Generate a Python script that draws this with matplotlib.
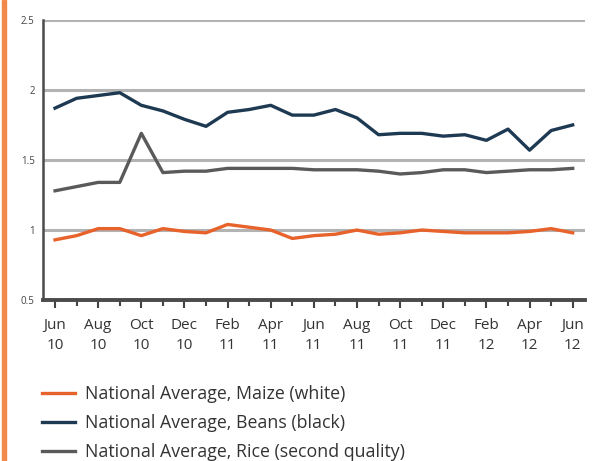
import matplotlib
matplotlib.use("Agg")
import matplotlib.pyplot as plt
from matplotlib.patches import Rectangle

# monthly national average prices, Jun 2010 - Jun 2012
months = list(range(25))
tick_labels = ["Jun\n10", "Aug\n10", "Oct\n10", "Dec\n10", "Feb\n11", "Apr\n11", "Jun\n11",
               "Aug\n11", "Oct\n11", "Dec\n11", "Feb\n12", "Apr\n12", "Jun\n12"]

maize = [0.93, 0.96, 1.01, 1.01, 0.96, 1.01, 0.99, 0.98, 1.04, 1.02, 1.00, 0.94, 0.96,
         0.97, 1.00, 0.97, 0.98, 1.00, 0.99, 0.98, 0.98, 0.98, 0.99, 1.01, 0.98]
beans = [1.87, 1.94, 1.96, 1.98, 1.89, 1.85, 1.79, 1.74, 1.84, 1.86, 1.89, 1.82, 1.82,
         1.86, 1.80, 1.68, 1.69, 1.69, 1.67, 1.68, 1.64, 1.72, 1.57, 1.71, 1.75]
rice = [1.28, 1.31, 1.34, 1.34, 1.69, 1.41, 1.42, 1.42, 1.44, 1.44, 1.44, 1.44, 1.43,
        1.43, 1.43, 1.42, 1.40, 1.41, 1.43, 1.43, 1.41, 1.42, 1.43, 1.43, 1.44]

labels = ["National Average, Maize (white)",
          "National Average, Beans (black)",
          "National Average, Rice (second quality)"]

plt.rcParams['font.family'] = ['Open Sans', 'DejaVu Sans']

fig = plt.figure(figsize=(6.01, 4.61), dpi=100)
ax = fig.add_axes([0.0715, 0.349, 0.9015, 0.608])

# orange bar down the left edge
fig.patches.append(Rectangle((0.003, 0), 0.007, 1, transform=fig.transFigure,
                             color="#f0894a", zorder=0))

for yv in [1, 1.5, 2, 2.5]:
    ax.axhline(yv, color="#b3b3b3", lw=2.2, zorder=1)

l1, = ax.plot(months, maize, color="#e8622c", lw=2.4, zorder=3)
l2, = ax.plot(months, beans, color="#1e3a52", lw=2.4, zorder=3)
l3, = ax.plot(months, rice, color="#5a5a5a", lw=2.4, zorder=3)

ax.set_xlim(-0.56, 24.56)
ax.set_ylim(0.5, 2.5)
ax.set_yticks([0.5, 1, 1.5, 2, 2.5])
ax.set_yticklabels(["0.5", "1", "1.5", "2", "2.5"])
ax.set_xticks(months[::2])
ax.set_xticklabels(tick_labels, linespacing=1.45)
ax.set_xticks(months[1::2], minor=True)

for s in ["top", "right"]:
    ax.spines[s].set_visible(False)
ax.spines["left"].set_color("#4a4a4a")
ax.spines["left"].set_linewidth(1.8)
ax.spines["bottom"].set_color("#4a4a4a")
ax.spines["bottom"].set_linewidth(2.8)

ax.tick_params(axis="y", length=0, labelsize=7, colors="#444444", pad=6)
ax.tick_params(axis="x", which="major", length=6, width=1.5, color="#444444",
               labelsize=11, labelcolor="#333333", pad=7)
ax.tick_params(axis="x", which="minor", length=4, width=1.5, color="#444444")

fig.legend([l1, l2, l3], labels, loc="upper left", bbox_to_anchor=(0.043, 0.2),
           frameon=False, fontsize=12.8, handlelength=1.85, handletextpad=0.56,
           labelspacing=0.62, labelcolor="#333333")

fig.savefig("out.png", dpi=100, facecolor="white")
